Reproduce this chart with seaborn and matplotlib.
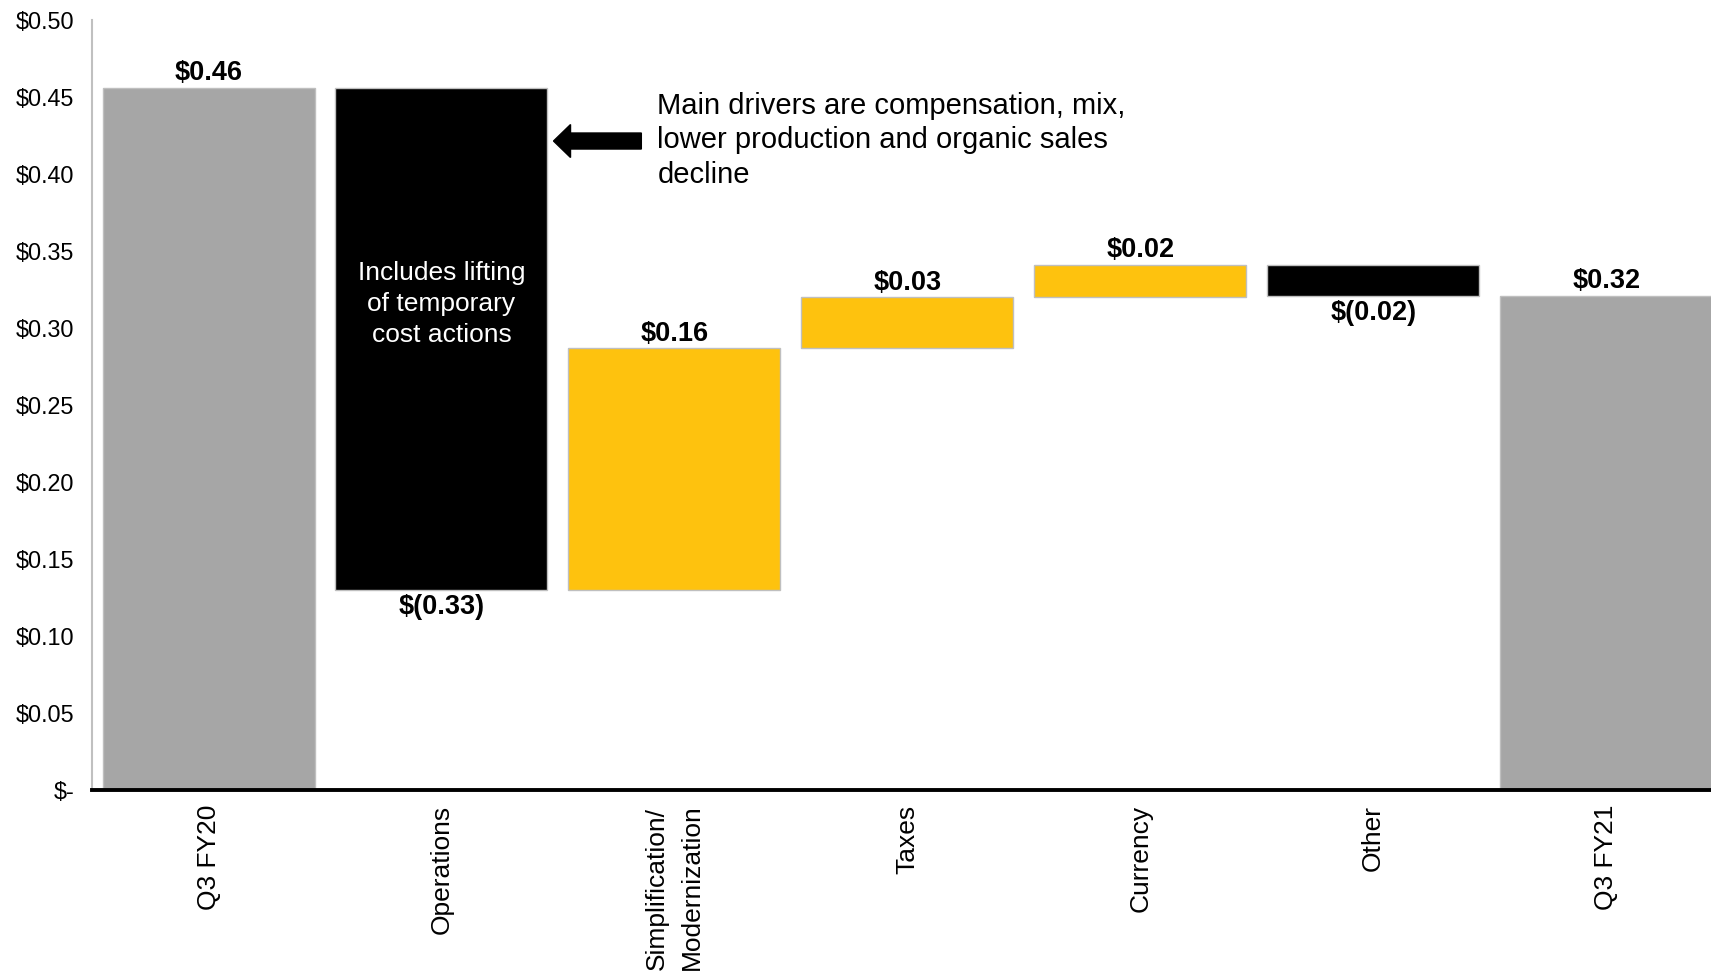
import numpy as np
import pandas as pd
import matplotlib
matplotlib.use("Agg")
import matplotlib.pyplot as plt
import seaborn as sns

# ---------------- data ----------------
categories = ["Q3 FY20", "Operations", "Simplification/\nModernization",
              "Taxes", "Currency", "Other", "Q3 FY21"]
start_value = 0.456
changes = [-0.326, 0.157, 0.033, 0.021, -0.020]
end_value = 0.321
value_labels = ["$0.46", "$(0.33)", "$0.16", "$0.03", "$0.02", "$(0.02)", "$0.32"]
kinds = ["total", "neg", "pos", "pos", "pos", "neg", "total"]
y_ticks = [0.00, 0.05, 0.10, 0.15, 0.20, 0.25, 0.30, 0.35, 0.40, 0.45, 0.50]
y_tick_labels = ["$-", "$0.05", "$0.10", "$0.15", "$0.20", "$0.25", "$0.30",
                 "$0.35", "$0.40", "$0.45", "$0.50"]
note_text = "Main drivers are compensation, mix,\nlower production and organic sales\ndecline"
bar_note = "Includes lifting\nof temporary\ncost actions"

colors = {"total": "#A6A6A6", "neg": "#000000", "pos": "#FEC20E"}

# ---------------- waterfall geometry ----------------
levels = np.concatenate([[start_value], start_value + np.cumsum(changes)])
bottoms = [0.0] + [min(levels[i], levels[i + 1]) for i in range(len(changes))] + [0.0]
heights = [start_value] + [abs(c) for c in changes] + [end_value]
df = pd.DataFrame({"category": categories, "height": heights, "bottom": bottoms})

sns.set_theme(style="white")
plt.rcParams["font.family"] = ["Liberation Sans", "DejaVu Sans"]

fig = plt.figure(figsize=(17.11, 9.74), dpi=100)
ax = fig.add_axes([0.0538, 0.1889, 0.9462, 0.7906])

sns.barplot(data=df, x="category", y="height", order=categories, color="#A6A6A6",
            width=0.91, bottom=df["bottom"].values, edgecolor="#BFBFBF",
            linewidth=1.0, errorbar=None, ax=ax, zorder=2)

for patch, kind in zip(ax.patches, kinds):
    patch.set_facecolor(colors[kind])

ax.set_xlim(-0.5, 6.45)
ax.set_ylim(0, 0.5)

# value labels
for i, (lab, kind) in enumerate(zip(value_labels, kinds)):
    if kind == "neg":
        ax.annotate(lab, (i, bottoms[i]), xytext=(0, -12.6), textcoords="offset points",
                    ha="center", va="center", fontsize=19.5, fontweight="bold", color="black")
    else:
        ax.annotate(lab, (i, bottoms[i] + heights[i]), xytext=(0, 10.4),
                    textcoords="offset points", ha="center", va="center",
                    fontsize=19.5, fontweight="bold", color="black")

# axes styling
ax.set_yticks(y_ticks)
ax.set_yticklabels(y_tick_labels, fontsize=16.8, color="black")
ax.tick_params(axis="y", length=0, pad=13)
ax.set_xticks(range(len(categories)))
ax.set_xticklabels(categories, rotation=90, fontsize=19, color="black",
                   multialignment="left", linespacing=1.55)
ax.tick_params(axis="x", length=0, pad=10.5)
ax.set_xlabel("")
ax.set_ylabel("")

for s in ["top", "right"]:
    ax.spines[s].set_visible(False)
ax.spines["left"].set_color("#C0C0C0")
ax.spines["left"].set_linewidth(1.5)
ax.spines["bottom"].set_color("black")
ax.spines["bottom"].set_linewidth(2.8)
ax.spines["bottom"].set_zorder(5)

# annotations
ax.text(1, 0.3156, bar_note, ha="center", va="center", color="white",
        fontsize=19, linespacing=1.39, zorder=4)
ax.text(1.927, 0.4535, note_text, ha="left", va="top", color="black",
        fontsize=21, linespacing=1.3)
ax.arrow(1.858, 0.4214, -0.377, 0, width=0.0104, head_width=0.0214,
         head_length=0.073, length_includes_head=True, color="black", zorder=4)

fig.savefig("out.png", dpi=100)
